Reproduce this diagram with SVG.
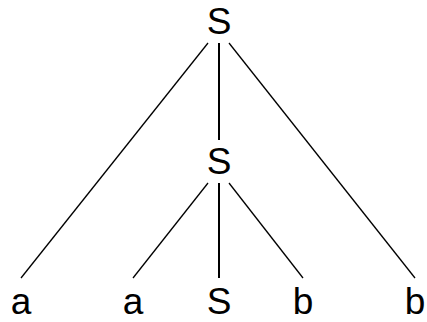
<svg xmlns="http://www.w3.org/2000/svg" width="427" height="322" viewBox="0 0 427 322">
<style>
.t{font-family:"Liberation Sans",Arial,sans-serif;font-size:37px;fill:#000;text-anchor:middle}
.e{stroke:#000;stroke-width:1.3;fill:none}
.v{stroke:#000;stroke-width:2;fill:none}
</style>
<rect width="427" height="322" fill="#fff"/>
<g id="connectors">
<line class="e" x1="208" y1="43" x2="21" y2="278"/>
<line class="v" x1="219" y1="43" x2="219" y2="140"/>
<line class="e" x1="229" y1="43" x2="415" y2="278"/>
<line class="e" x1="208" y1="183" x2="133" y2="278"/>
<line class="v" x1="219" y1="183" x2="219" y2="278"/>
<line class="e" x1="229" y1="183" x2="303" y2="278"/>
</g>
<g id="n1"><text class="t" x="219" y="34">S</text></g>
<g id="n2"><text class="t" x="219" y="174">S</text></g>
<g id="n3"><text class="t" x="21" y="314">a</text></g>
<g id="n4"><text class="t" x="133" y="314">a</text></g>
<g id="n5"><text class="t" x="219" y="314">S</text></g>
<g id="n6"><text class="t" x="303" y="314">b</text></g>
<g id="n7"><text class="t" x="415" y="314">b</text></g>
</svg>
